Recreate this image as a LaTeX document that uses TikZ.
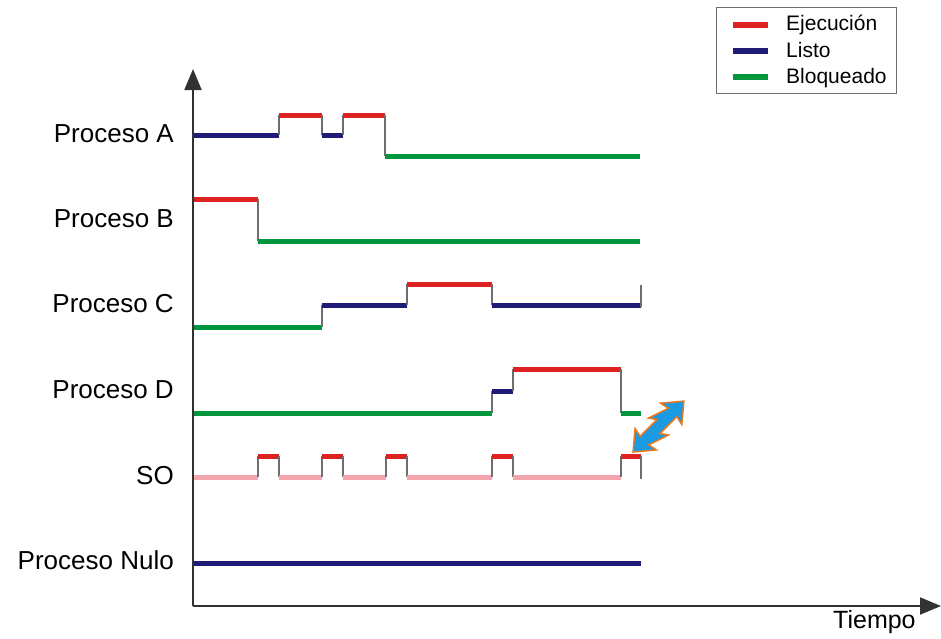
\documentclass[tikz,border=0pt]{standalone}
\usepackage{fontspec}
\setmainfont{Liberation Sans}
\usetikzlibrary{arrows.meta}
\definecolor{cexec}{RGB}{222,34,34}
\definecolor{cready}{RGB}{30,28,120}
\definecolor{cblock}{RGB}{0,150,62}
\definecolor{cso}{RGB}{244,164,172}
\definecolor{ctrans}{RGB}{110,110,110}
\definecolor{caxis}{RGB}{50,50,50}
\definecolor{cbolt}{RGB}{26,154,224}
\definecolor{cboltedge}{RGB}{232,120,32}
\tikzset{
  exec/.style={draw=cexec,line width=5pt,line cap=butt},
  ready/.style={draw=cready,line width=5pt,line cap=butt},
  blocked/.style={draw=cblock,line width=5pt,line cap=butt},
  sosty/.style={draw=cso,line width=5pt,line cap=butt},
  trans/.style={draw=ctrans,line width=1.3pt},
  axis/.style={draw=caxis,line width=2pt,-{Triangle[length=21pt,width=17pt]}},
  lbl/.style={anchor=base east,inner sep=0pt,font=\fontsize{26}{30}\selectfont},
  leglbl/.style={anchor=base west,inner sep=0pt,font=\fontsize{21}{25}\selectfont},
  legline/.style={line width=6pt,line cap=butt}
}
\begin{document}
\begin{tikzpicture}[x=1pt,y=-1pt]
\useasboundingbox (0,0) rectangle (941,638);
% axes
\coordinate (o) at (193,606);
\coordinate (ytop) at (193,69);
\coordinate (xend) at (941,606);
\draw[axis] (o) -- (ytop);
\draw[axis] (o) -- (xend);
\node[inner sep=0pt,anchor=base west,font=\fontsize{25}{30}\selectfont] (tiempo) at (833,628) {Tiempo};
% labels
\node[lbl] (la) at (174,142) {Proceso A};
\node[lbl] (lb) at (174,227) {Proceso B};
\node[lbl] (lc) at (174,312) {Proceso C};
\node[lbl] (ld) at (174,398) {Proceso D};
\node[lbl] (lso) at (174,484) {SO};
\node[lbl] (ln) at (174,569) {Proceso Nulo};
% Proceso A
\draw[ready] (194,135) -- (279,135);
\draw[trans] (279,135) -- (279,115);
\draw[exec] (279,115) -- (322,115);
\draw[trans] (322,115) -- (322,135);
\draw[ready] (322,135) -- (343,135);
\draw[trans] (343,135) -- (343,115);
\draw[exec] (343,115) -- (385,115);
\draw[trans] (385,115) -- (385,156);
\draw[blocked] (385,156) -- (640,156);
% Proceso B
\draw[exec] (194,199) -- (258,199);
\draw[trans] (258,199) -- (258,241);
\draw[blocked] (258,241) -- (640,241);
% Proceso C
\draw[blocked] (194,327) -- (322,327);
\draw[trans] (322,327) -- (322,305);
\draw[ready] (322,305) -- (407,305);
\draw[trans] (407,305) -- (407,284);
\draw[exec] (407,284) -- (492,284);
\draw[trans] (492,284) -- (492,305);
\draw[ready] (492,305) -- (641,305);
\draw[trans] (641,307) -- (641,285);
% Proceso D
\draw[blocked] (194,413) -- (492,413);
\draw[trans] (492,413) -- (492,391);
\draw[ready] (492,391) -- (513,391);
\draw[trans] (513,391) -- (513,369);
\draw[exec] (513,369) -- (621,369);
\draw[trans] (621,369) -- (621,413);
\draw[blocked] (621,413) -- (641,413);
% SO
\draw[sosty] (194,477) -- (258,477);
\draw[trans] (258,477) -- (258,456);
\draw[exec] (258,456) -- (279,456);
\draw[trans] (279,456) -- (279,477);
\draw[sosty] (279,477) -- (322,477);
\draw[trans] (322,477) -- (322,456);
\draw[exec] (322,456) -- (343,456);
\draw[trans] (343,456) -- (343,477);
\draw[sosty] (343,477) -- (386,477);
\draw[trans] (386,477) -- (386,456);
\draw[exec] (386,456) -- (407,456);
\draw[trans] (407,456) -- (407,477);
\draw[sosty] (407,477) -- (492,477);
\draw[trans] (492,477) -- (492,456);
\draw[exec] (492,456) -- (513,456);
\draw[trans] (513,456) -- (513,477);
\draw[sosty] (513,477) -- (621,477);
\draw[trans] (621,477) -- (621,456);
\draw[exec] (621,456) -- (641,456);
\draw[trans] (641,456) -- (641,479);
% Proceso Nulo
\draw[ready] (194,563) -- (641,563);
% lightning double arrow
\draw[fill=cbolt,draw=cboltedge,line width=1.5pt,line join=miter]
  (633,452) -- (635.1,428.7) -- (640.1,436.4) -- (657.0,419.5) -- (648.6,418.1)
  -- (668.4,408.2) -- (660.6,403.2) -- (683.9,401.1) -- (681.8,424.4)
  -- (676.8,416.6) -- (659.9,433.6) -- (668.4,435.0) -- (648.6,444.9)
  -- (656.3,449.9) -- cycle;
% legend
\node[draw=ctrans,line width=1pt,minimum width=180pt,minimum height=86pt,inner sep=0pt,anchor=north west] (legend) at (716,7) {};
\draw[legline,cexec] (733,25) -- (768,25);
\draw[legline,cready] (733,51) -- (768,51);
\draw[legline,cblock] (733,77) -- (768,77);
\node[leglbl] (lg1) at (786,30) {Ejecución};
\node[leglbl] (lg2) at (786,57) {Listo};
\node[leglbl] (lg3) at (786,83) {Bloqueado};
\end{tikzpicture}
\end{document}
